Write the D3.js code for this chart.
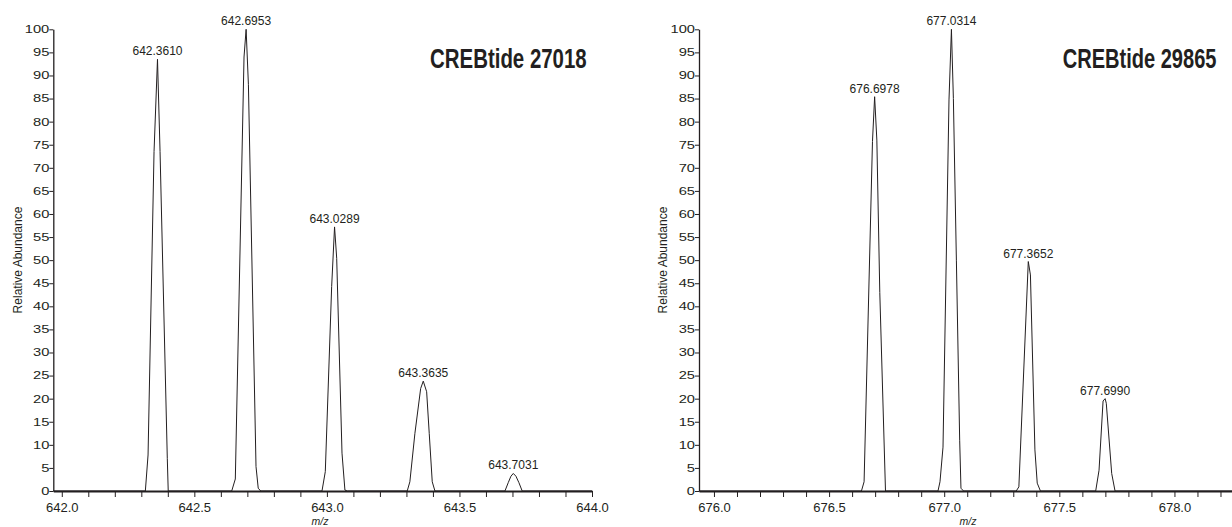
<!DOCTYPE html>
<html>
<head>
<meta charset="utf-8">
<script src="https://cdn.jsdelivr.net/npm/d3@7"></script>
<style>
  html, body { margin: 0; padding: 0; background: #fff; }
  svg { display: block; }
  text { font-family: "Liberation Sans", Arial, Helvetica, sans-serif; fill: #231f20; }
</style>
</head>
<body>
<svg id="chart" width="1232" height="527"></svg>
<script>
// ---- CREBtide 27018 profile spectrum (m/z, relative abundance %) ----
const leftTitle = "CREBtide 27018";
const leftMz = [641.968, 642.3152, 642.3254, 642.348, 642.3610, 642.3707, 642.398, 642.4015,
  642.641, 642.6546, 642.6874, 642.6953, 642.704, 642.7326, 642.741, 642.7505,
  642.9815, 642.994, 643.018, 643.0289, 643.037, 643.057, 643.068, 643.077,
  643.303, 643.313, 643.332, 643.3537, 643.3635, 643.3763, 643.386, 643.3974, 643.4076,
  643.6716, 643.684, 643.6942, 643.7031, 643.7131, 643.7244, 643.7367, 644.0];
const leftIntensity = [0, 0, 7.8, 73.5, 93.5, 73.5, 7, 0,
  0, 2.6, 94, 100, 88, 5.3, 0.6, 0,
  0, 4.2, 44.3, 57.2, 50.4, 8.2, 0.2, 0,
  0, 2, 12.5, 22.2, 23.8, 21.5, 12.5, 2, 0,
  0, 1.8, 3.2, 3.8, 3.2, 1.8, 0, 0];
const leftPeaks = [642.3610, 642.6953, 643.0289, 643.3635, 643.7031];
const leftDomain = [641.968, 644.0];

// ---- CREBtide 29865 profile spectrum ----
const rightTitle = "CREBtide 29865";
const rightMz = [675.935, 676.6405, 676.652, 676.6885, 676.6978, 676.7075, 676.7202, 676.745,
  676.973, 676.9817, 676.9948, 677.0208, 677.0314, 677.0399, 677.0529, 677.0672, 677.0728, 677.0841,
  677.3128, 677.3243, 677.3652, 677.3745, 677.394, 677.404, 677.418,
  677.658, 677.6725, 677.690, 677.6990, 677.704, 677.7275, 677.742, 678.25];
const rightIntensity = [0, 0, 2, 75.7, 85.4, 76, 43, 0,
  0, 2, 9.5, 84.7, 100, 85, 50, 11, 0.6, 0,
  0, 0.9, 49.7, 46.8, 8.9, 1.7, 0,
  0, 4.5, 19.5, 20.0, 19, 3.8, 0, 0];
const rightPeaks = [676.6978, 677.0314, 677.3652, 677.6990];
const rightDomain = [675.935, 678.25];

// ---- axis ticks ----
const yTicks = d3.range(0, 101, 5);
const leftXTicks = d3.range(6420, 6441, 1).map(v => v / 10);
const rightXTicks = d3.range(6760, 6783, 1).map(v => v / 10);
const yLabel = "Relative Abundance";
const xLabel = "m/z";

const ink = "#231f20";
const svg = d3.select("#chart");

function drawPanel(opt) {
  const g = svg.append("g");
  const x = d3.scaleLinear().domain(opt.domain).range([opt.left, opt.right]);
  const y = d3.scaleLinear().domain([0, 100]).range([491, 29.3]);

  // y axis
  const yAxis = g.append("g")
    .attr("transform", `translate(${opt.left},0)`)
    .call(d3.axisLeft(y).tickValues(yTicks).tickSize(4).tickSizeOuter(0).tickPadding(0));
  yAxis.select(".domain").attr("stroke", ink).attr("stroke-width", 1.3);
  yAxis.selectAll(".tick line").attr("stroke", ink).attr("stroke-width", 1);
  yAxis.selectAll(".tick text")
    .attr("font-size", 10.5)
    .attr("font-family", "Liberation Sans, Arial, sans-serif")
    .attr("fill", ink)
    .attr("x", -4 / 1.4)
    .attr("transform", "scale(1.4,1)");

  // x axis
  const xAxis = g.append("g")
    .attr("transform", "translate(0,491)")
    .call(d3.axisBottom(x).tickValues(opt.xTicks).tickSize(6).tickSizeOuter(0).tickPadding(6)
      .tickFormat(d => Math.abs(Math.round(d * 2) - d * 2) < 1e-6 ? d.toFixed(1) : ""));
  xAxis.select(".domain").attr("stroke", ink).attr("stroke-width", 2);
  xAxis.selectAll(".tick line").attr("stroke", ink).attr("stroke-width", 1);
  xAxis.selectAll(".tick text")
    .attr("font-size", 13)
    .attr("font-family", "Liberation Sans, Arial, sans-serif")
    .attr("fill", ink);

  // spectrum trace
  const pts = opt.mz.map((m, i) => [m, opt.intensity[i]]);
  g.append("path")
    .datum(pts)
    .attr("fill", "none")
    .attr("stroke", ink)
    .attr("stroke-width", 1)
    .attr("stroke-linejoin", "miter")
    .attr("d", d3.line().x(d => x(d[0])).y(d => y(d[1])));

  // peak centroid labels
  g.selectAll("text.peak")
    .data(opt.peaks)
    .join("text")
    .attr("class", "peak")
    .attr("x", d => x(d))
    .attr("y", d => y(opt.intensity[opt.mz.indexOf(d)]) - 4)
    .attr("text-anchor", "middle")
    .attr("font-size", 12)
    .text(d => d.toFixed(4));

  // axis titles
  g.append("text")
    .attr("transform", `translate(${opt.yLabelX},260) rotate(-90)`)
    .attr("text-anchor", "middle")
    .attr("font-size", 12)
    .text(yLabel);
  g.append("text")
    .attr("x", opt.xLabelX)
    .attr("y", 524.5)
    .attr("text-anchor", "middle")
    .attr("font-size", 10.5)
    .attr("font-style", "italic")
    .text(xLabel);

  // panel title, bold and horizontally condensed
  g.append("g")
    .attr("transform", `translate(${opt.titleX},68) scale(${opt.titleScale},1)`)
    .append("text")
    .attr("x", 0)
    .attr("y", 0)
    .attr("font-size", 27)
    .attr("font-weight", "bold")
    .text(opt.title);
}

drawPanel({
  domain: leftDomain, left: 53.3, right: 592, xTicks: leftXTicks,
  mz: leftMz, intensity: leftIntensity, peaks: leftPeaks,
  yLabelX: 21.5, xLabelX: 320, title: leftTitle, titleX: 430, titleScale: 0.757
});
drawPanel({
  domain: rightDomain, left: 699, right: 1232, xTicks: rightXTicks,
  mz: rightMz, intensity: rightIntensity, peaks: rightPeaks,
  yLabelX: 666.5, xLabelX: 968, title: rightTitle, titleX: 1062.7, titleScale: 0.743
});
</script>
</body>
</html>
